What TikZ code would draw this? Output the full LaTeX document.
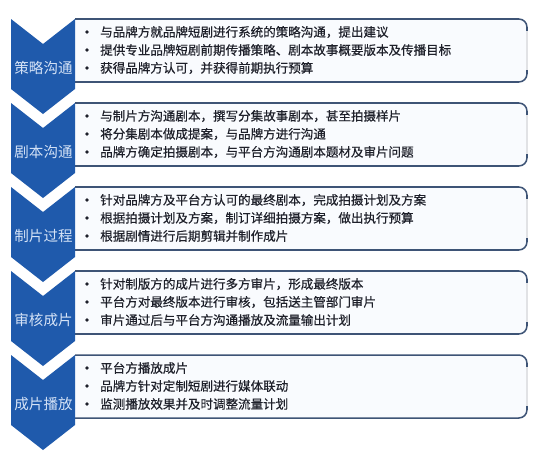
\documentclass[tikz,border=0pt]{standalone}
\usepackage{fontspec}
\newfontfamily\cjk{Noto Sans CJK SC}
\newfontfamily\cjkmed[FakeBold=0.5]{Noto Sans CJK SC}
\usetikzlibrary{calc}
\definecolor{chevblue}{RGB}{31,90,172}
\definecolor{labelblue}{RGB}{212,226,246}
\definecolor{boxedge}{RGB}{62,84,118}
\definecolor{boxfill}{RGB}{249,251,254}
\definecolor{itemtext}{RGB}{30,32,42}
\tikzstyle{chevron}=[fill=chevblue]
\tikzstyle{stagebox}=[fill=boxfill, draw=boxedge, line width=1.3pt, rounded corners=7pt]
\tikzstyle{stagelabel}=[text=labelblue, font=\cjk\fontsize{12.4}{14}\selectfont, inner sep=0pt]
\tikzstyle{item}=[anchor=west, text=itemtext, font=\cjkmed\fontsize{10.7}{12}\selectfont, inner sep=0pt]
\tikzstyle{dot}=[fill=itemtext]
% #1 name, #2 top, #3 label, #4--#6 items
\newcommand{\stage}[6]{
	\draw[stagebox] (75,#2) -- (527,#2) -- (527,#2+63) -- (75,#2+63);
	\draw[boxfill!80!gray, line width=1.3pt] (527,#2+12) -- (527,#2+51);
	\fill[chevron] (11,#2) -- (43,#2+25) -- (75,#2) -- (75,#2+70) -- (43,#2+95) -- (11,#2+70) -- cycle;
	\node[stagelabel] (#1-label) at (43.5,#2+49) {#3};
	\node[item] (#1-a) at (100,#2+13) {#4};
	\node[item] (#1-b) at (100,#2+31) {#5};
	\node[item] (#1-c) at (100,#2+49) {#6};
	\fill[dot] ($(#1-a.west)+(-13,0)$) circle (1.8);
	\fill[dot] ($(#1-b.west)+(-13,0)$) circle (1.8);
	\fill[dot] ($(#1-c.west)+(-13,0)$) circle (1.8);
}

\begin{document}
\begin{tikzpicture}[x=0.03cm,y=-0.03cm]
	\fill[white] (0,0) rectangle (540,465);
	\useasboundingbox (0,0) rectangle (540,465);
	\stage{plan}{19}{策略沟通}{与品牌方就品牌短剧进行系统的策略沟通，提出建议}{提供专业品牌短剧前期传播策略、剧本故事概要版本及传播目标}{获得品牌方认可，并获得前期执行预算}
	\stage{script}{103}{剧本沟通}{与制片方沟通剧本，撰写分集故事剧本，甚至拍摄样片}{将分集剧本做成提案，与品牌方进行沟通}{品牌方确定拍摄剧本，与平台方沟通剧本题材及审片问题}
	\stage{make}{187}{制片过程}{针对品牌方及平台方认可的最终剧本，完成拍摄计划及方案}{根据拍摄计划及方案，制订详细拍摄方案，做出执行预算}{根据剧情进行后期剪辑并制作成片}
	\stage{review}{271}{审核成片}{针对制版方的成片进行多方审片，形成最终版本}{平台方对最终版本进行审核，包括送主管部门审片}{审片通过后与平台方沟通播放及流量输出计划}
	\stage{play}{355}{成片播放}{平台方播放成片}{品牌方针对定制短剧进行媒体联动}{监测播放效果并及时调整流量计划}
\end{tikzpicture}
\end{document}
